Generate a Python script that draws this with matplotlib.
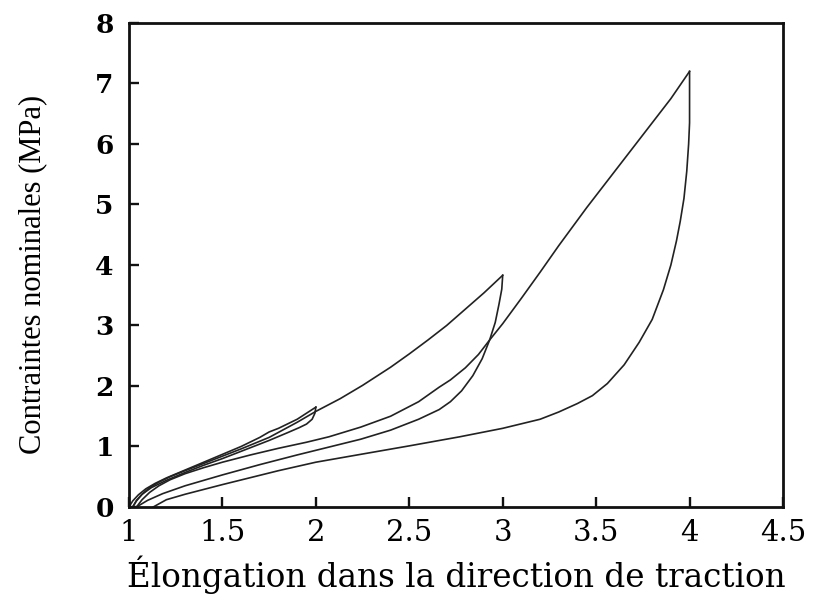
import numpy as np
import matplotlib
matplotlib.use("Agg")
import matplotlib.pyplot as plt

# Cyclic tensile test: load to 2, 3 and 4, unloading to zero stress each time
# first loading up to elongation 2
load1_x = [1.00, 1.02, 1.05, 1.09, 1.14, 1.20, 1.30, 1.40, 1.50, 1.60, 1.70, 1.75, 1.80, 1.90, 2.00]
load1_y = [0.00, 0.10, 0.20, 0.30, 0.39, 0.48, 0.61, 0.74, 0.87, 1.00, 1.15, 1.24, 1.30, 1.45, 1.65]

# unloading from 2
unload1_x = [2.00, 1.995, 1.98, 1.95, 1.91, 1.85, 1.75, 1.60, 1.50, 1.40, 1.30, 1.20, 1.12, 1.07, 1.04, 1.02]
unload1_y = [1.65, 1.55, 1.45, 1.37, 1.31, 1.23, 1.10, 0.92, 0.80, 0.69, 0.57, 0.44, 0.32, 0.21, 0.11, 0.00]

# second loading up to 3
load2_x = [1.02, 1.04, 1.07, 1.11, 1.16, 1.22, 1.30, 1.40, 1.50, 1.60, 1.75, 1.90, 2.00, 2.13,
           2.25, 2.40, 2.50, 2.60, 2.70, 2.80, 2.90, 3.00]
load2_y = [0.00, 0.10, 0.21, 0.32, 0.41, 0.50, 0.60, 0.72, 0.84, 0.96, 1.15, 1.40, 1.58, 1.79,
           2.01, 2.31, 2.53, 2.76, 3.00, 3.27, 3.54, 3.83]

# unloading from 3
unload2_x = [3.00, 2.995, 2.98, 2.96, 2.93, 2.89, 2.84, 2.78, 2.72, 2.66, 2.55, 2.40, 2.24, 2.07,
             1.90, 1.70, 1.50, 1.30, 1.18, 1.10, 1.04]
unload2_y = [3.83, 3.60, 3.35, 3.05, 2.76, 2.45, 2.17, 1.92, 1.74, 1.61, 1.45, 1.27, 1.12, 0.99,
             0.86, 0.70, 0.53, 0.35, 0.22, 0.11, 0.00]

# third loading up to 4
load3_x = [1.04, 1.07, 1.11, 1.16, 1.22, 1.30, 1.40, 1.50, 1.65, 1.80, 1.95, 2.07, 2.24, 2.40,
           2.55, 2.66, 2.72, 2.80, 2.87, 2.93, 3.00, 3.10, 3.20, 3.30, 3.45, 3.60, 3.75, 3.90, 4.00]
load3_y = [0.00, 0.12, 0.24, 0.35, 0.45, 0.55, 0.65, 0.74, 0.86, 0.97, 1.07, 1.16, 1.32, 1.50,
           1.74, 1.98, 2.10, 2.30, 2.52, 2.76, 3.03, 3.45, 3.88, 4.32, 4.95, 5.55, 6.15, 6.75, 7.20]

# unloading from 4
unload3_x = [4.00, 4.00, 3.995, 3.985, 3.97, 3.95, 3.93, 3.90, 3.86, 3.80, 3.73, 3.65, 3.56, 3.48,
             3.40, 3.30, 3.20, 3.00, 2.77, 2.50, 2.24, 2.00, 1.80, 1.50, 1.30, 1.20, 1.13]
unload3_y = [7.20, 6.35, 6.00, 5.55, 5.10, 4.72, 4.40, 4.00, 3.59, 3.10, 2.72, 2.35, 2.04, 1.84,
             1.71, 1.57, 1.45, 1.30, 1.16, 1.01, 0.87, 0.74, 0.60, 0.37, 0.21, 0.12, 0.00]

x_ticks = [1, 1.5, 2, 2.5, 3, 3.5, 4, 4.5]
x_tick_labels = ["1", "1.5", "2", "2.5", "3", "3.5", "4", "4.5"]
y_ticks = [0, 1, 2, 3, 4, 5, 6, 7, 8]

fig = plt.figure(figsize=(8.18, 6.10), dpi=100)
ax = fig.add_axes([0.1577, 0.1689, 0.7995, 0.7934])

branches = [(load1_x, load1_y), (unload1_x, unload1_y),
            (load2_x, load2_y), (unload2_x, unload2_y),
            (load3_x, load3_y), (unload3_x, unload3_y)]
for bx, by in branches:
    ax.plot(bx, by, color="#222222", lw=1.2, solid_joinstyle="round")

ax.set_xlim(1, 4.5)
ax.set_ylim(0, 8)
ax.set_xticks(x_ticks)
ax.set_xticklabels(x_tick_labels, family="DejaVu Serif", fontsize=21)
ax.set_yticks(y_ticks)
ax.set_yticklabels([str(v) for v in y_ticks], family="DejaVu Serif",
                   fontweight="bold", fontsize=19)

for side in ax.spines.values():
    side.set_linewidth(2.0)
    side.set_color("#111111")
ax.tick_params(direction="in", length=7, width=1.7, color="#111111",
               top=False, right=False)
ax.tick_params(axis="x", pad=9)
ax.tick_params(axis="y", pad=11)

ax.set_xlabel("Élongation dans la direction de traction",
              family="DejaVu Serif", fontsize=23.5, labelpad=6)
ax.set_ylabel("Contraintes nominales (MPa)",
              family="Liberation Serif", fontsize=22)
ax.yaxis.set_label_coords(-0.125, 0.48)

fig.savefig("out.png", dpi=100)
